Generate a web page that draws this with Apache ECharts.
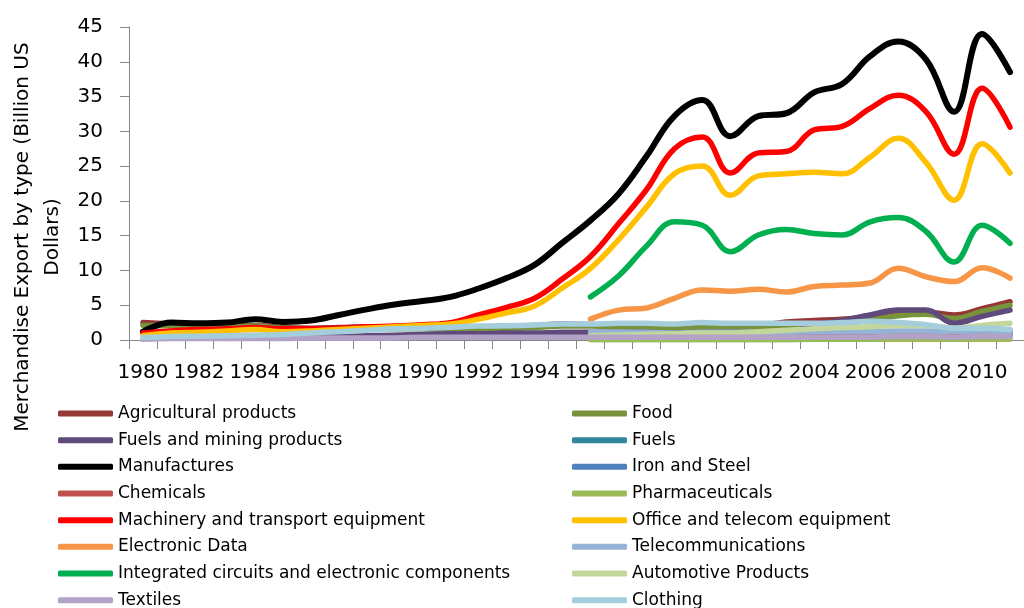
<!DOCTYPE html>
<html><head><meta charset="utf-8">
<script src="https://cdn.jsdelivr.net/npm/echarts@6/dist/echarts.min.js"></script>
<style>html,body{margin:0;padding:0;background:#fff}#c{width:1024px;height:608px}</style>
</head><body><div id="c"></div>
<script>
var years = ["1980","1981","1982","1983","1984","1985","1986","1987","1988","1989","1990","1991","1992","1993","1994","1995","1996","1997","1998","1999","2000","2001","2002","2003","2004","2005","2006","2007","2008","2009","2010","2011"];
var yTicks = [0,5,10,15,20,25,30,35,40,45];
var N16 = [null,null,null,null,null,null,null,null,null,null,null,null,null,null,null,null];

var agricultural = [2.5,2.3,2.1,2.0,2.1,1.8,1.7,1.8,1.9,1.9,1.9,1.9,1.9,2.0,2.1,2.3,2.2,2.2,2.1,2.0,2.1,2.0,2.1,2.6,2.8,3.0,3.3,3.7,4.0,3.6,4.5,5.5];
var food = [2.1,2.0,1.9,1.9,2.0,1.7,1.6,1.6,1.6,1.6,1.6,1.6,1.6,1.7,1.8,2.0,2.0,1.9,1.8,1.6,1.8,1.7,1.7,1.8,2.0,2.3,2.9,3.5,3.7,3.1,4.1,5.0];
var fuelsMining = [1.1,0.7,0.5,0.4,0.4,0.4,0.4,0.5,0.6,0.7,0.8,0.9,0.9,1.0,1.0,1.1,1.1,1.1,1.1,1.0,1.1,1.1,1.1,1.1,2.2,2.8,3.6,4.3,4.3,2.4,3.4,4.3];
var fuels = N16.concat([0.5,0.5,0.4,0.4,0.5,0.5,0.5,0.5,0.6,0.6,0.7,0.8,0.9,0.7,0.8,1.0]);
var manufactures = [1.2,2.5,2.4,2.5,3.0,2.6,2.8,3.6,4.4,5.1,5.6,6.2,7.4,8.9,10.8,14.0,17.2,21.0,26.4,32.2,34.5,29.3,32.2,32.6,35.6,36.8,40.8,42.9,40.3,32.8,44.0,38.5];
var ironSteel = N16.concat([0.3,0.3,0.3,0.2,0.3,0.3,0.3,0.3,0.4,0.5,0.5,0.6,0.7,0.4,0.5,0.6]);
var chemicals = N16.concat([0.5,0.5,0.5,0.5,0.6,0.6,0.6,0.7,0.8,0.9,1.0,1.1,1.2,1.0,1.2,1.3]);
var pharmaceuticals = N16.concat([0.05,0.05,0.05,0.05,0.05,0.05,0.05,0.05,0.1,0.1,0.1,0.1,0.1,0.1,0.1,0.1]);
var machinery = [1.0,1.3,1.5,1.6,1.8,1.6,1.6,1.7,1.9,2.0,2.2,2.5,3.6,4.7,6.0,8.8,12.0,16.7,21.6,27.5,29.2,24.0,26.9,27.1,30.2,30.7,33.3,35.2,32.8,26.7,36.2,30.6];
var officeTelecom = [0.6,1.0,1.1,1.3,1.5,1.2,1.3,1.5,1.7,1.9,2.1,2.3,3.0,3.9,4.9,7.5,10.3,14.4,19.1,23.9,25.0,20.8,23.6,23.9,24.1,23.9,26.3,29.0,25.5,20.1,28.2,24.0];
var electronicData = N16.concat([3.0,4.3,4.6,6.0,7.2,7.0,7.3,6.9,7.7,7.9,8.2,10.3,9.1,8.4,10.4,8.9]);
var telecommunications = N16.concat([1.1,1.1,1.1,1.0,1.1,1.1,1.1,1.1,1.2,1.2,1.2,1.3,1.3,1.2,1.3,1.2]);
var integratedCircuits = N16.concat([6.2,9.2,13.5,17.0,16.5,12.7,15.1,15.9,15.3,15.1,17.0,17.6,15.6,11.2,16.5,13.9]);
var automotive = N16.concat([0.6,0.7,0.8,0.9,1.0,1.0,1.2,1.4,1.6,1.8,1.9,2.1,2.1,1.7,2.1,2.4]);
var textiles = [0.1,0.2,0.2,0.2,0.2,0.2,0.3,0.3,0.3,0.3,0.4,0.4,0.4,0.4,0.4,0.4,0.4,0.4,0.4,0.4,0.4,0.4,0.4,0.4,0.4,0.4,0.4,0.5,0.5,0.4,0.5,0.5];
var clothing = [0.35,0.5,0.55,0.6,0.7,0.8,1.0,1.2,1.4,1.6,1.7,1.85,2.0,2.05,2.15,2.3,2.3,2.4,2.4,2.3,2.5,2.4,2.4,2.4,2.4,2.5,2.7,2.5,2.2,1.7,1.7,1.5];

var names = ["Agricultural products","Food","Fuels and mining products","Fuels","Manufactures","Iron and Steel","Chemicals","Pharmaceuticals","Machinery and transport equipment","Office and telecom equipment","Electronic Data","Telecommunications","Integrated circuits and electronic components","Automotive Products","Textiles","Clothing"];
var colors = ["#953735","#77933C","#604A7B","#31859C","#000000","#4F81BD","#C0504D","#9BBB59","#FF0000","#FFC000","#F79646","#95B3D7","#00B050","#C3D69B","#B2A2C7","#A5CEDC"];
var values = [agricultural,food,fuelsMining,fuels,manufactures,ironSteel,chemicals,pharmaceuticals,machinery,officeTelecom,electronicData,telecommunications,integratedCircuits,automotive,textiles,clothing];

var FONT = "DejaVu Sans";
var series = names.map(function(n,i){
  return {
    name:n, type:'line', data:values[i], smooth:0.4, showSymbol:false, symbol:'none',
    color:colors[i], itemStyle:{color:colors[i]},
    lineStyle:{color:colors[i], width:(i===4?6:5.5), cap:'round', join:'round'},
    emphasis:{disabled:true}, z:2
  };
});
var leftNames = names.filter(function(n,i){return i%2===0;});
var rightNames = names.filter(function(n,i){return i%2===1;});
var legendBase = {
  orient:'vertical', top:405, height:220, padding:0, itemWidth:55, itemHeight:6, itemGap:9.67, icon:'roundRect',
  selectedMode:false,
  textStyle:{fontFamily:FONT, fontSize:17, color:'#000', lineHeight:17, padding:[0,0,0,0]}
};
var chart = echarts.init(document.getElementById('c'), null, {renderer:'canvas'});
chart.setOption({
  animation:false,
  backgroundColor:'#fff',
  grid:{left:129, top:27, width:909, height:313, containLabel:false},
  xAxis:{
    type:'category', data:years, boundaryGap:true,
    axisLine:{lineStyle:{color:'#868686', width:1}},
    axisTick:{show:true, interval:0, length:9, lineStyle:{color:'#868686'}},
    axisLabel:{interval:1, color:'#000', fontFamily:FONT, fontSize:20, margin:23}
  },
  yAxis:{
    type:'value', min:yTicks[0], max:yTicks[yTicks.length-1], interval:5,
    splitLine:{show:false},
    axisLine:{show:true, lineStyle:{color:'#868686', width:1}},
    axisTick:{show:true, length:9, lineStyle:{color:'#868686'}},
    axisLabel:{color:'#000', fontFamily:FONT, fontSize:20, margin:26}
  },
  legend:[
    Object.assign({}, legendBase, {left:58, data:leftNames}),
    Object.assign({}, legendBase, {left:572, data:rightNames})
  ],
  graphic:[{
    type:'text', x:38, y:237, rotation:Math.PI/2,
    style:{text:'Merchandise Export by type (Billion US\nDollars)', font:'20px "DejaVu Sans"', fill:'#000',
      align:'center', verticalAlign:'middle', lineHeight:30}
  }],
  series:series
});
</script></body></html>
